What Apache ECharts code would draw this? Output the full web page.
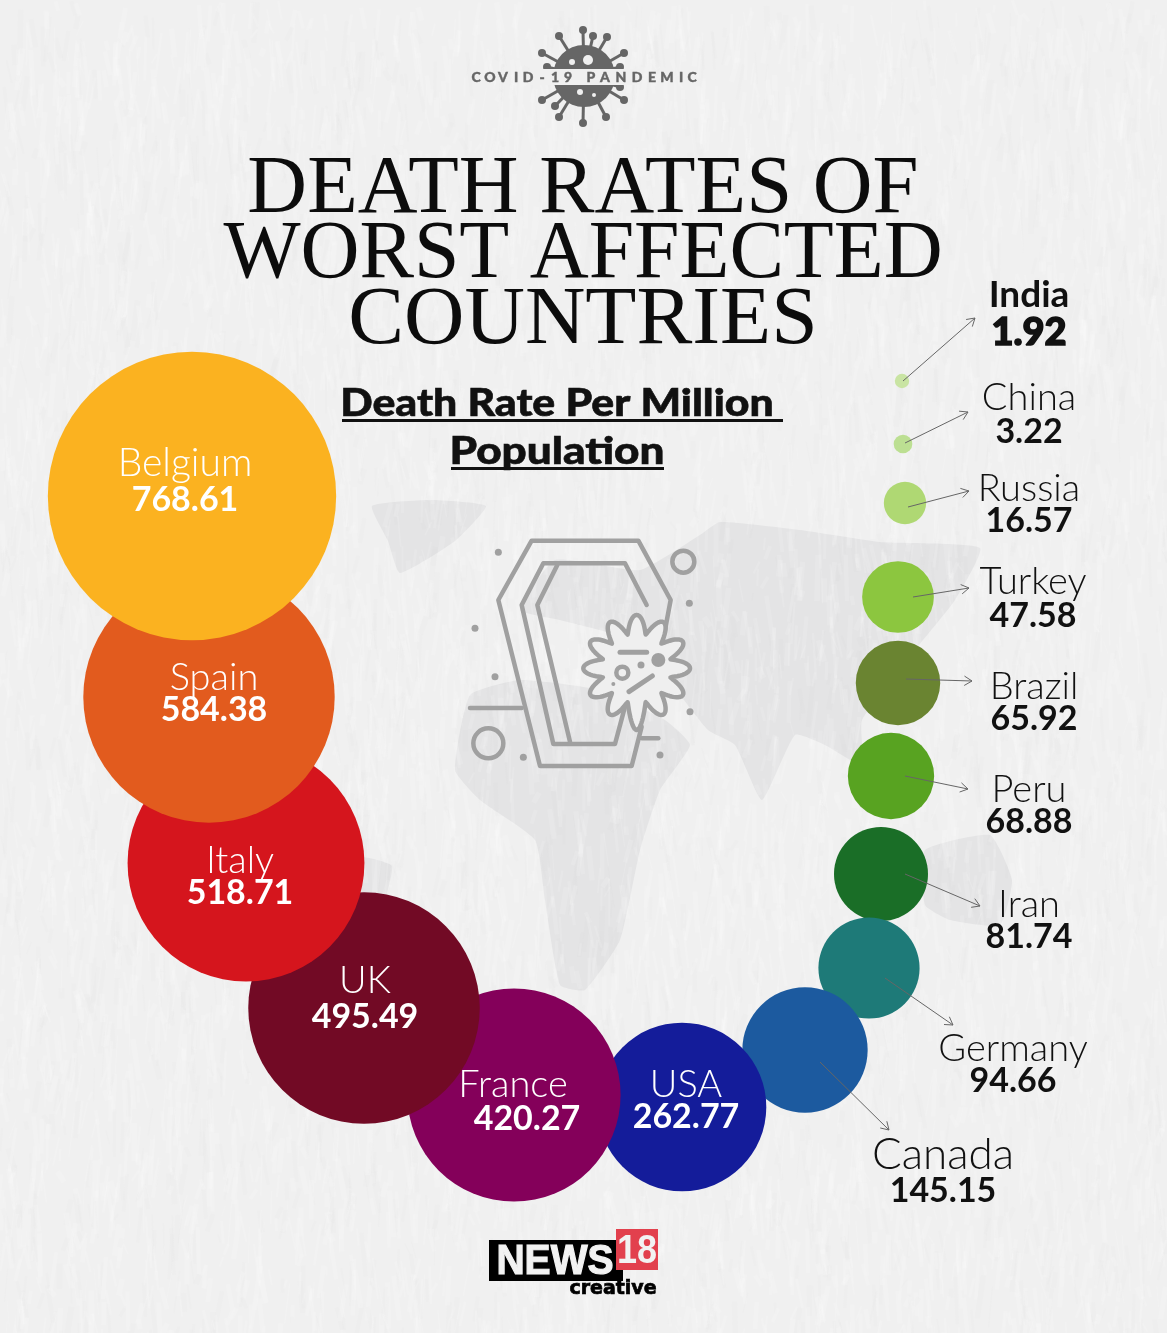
<!DOCTYPE html>
<html>
<head>
<meta charset="utf-8">
<title>Death rates of worst affected countries</title>
<style>
html, body { margin: 0; padding: 0; background: #f0f0f0; }
#chart { width: 1167px; height: 1333px; }
</style>
<script src="https://cdn.jsdelivr.net/npm/echarts@6/dist/echarts.min.js"></script>
</head>
<body>
<div id="chart"></div>
<script>
// values, smallest first so the bigger bubbles paint on top
const countries = ['India', 'China', 'Russia', 'Turkey', 'Brazil', 'Peru', 'Iran', 'Germany', 'Canada', 'USA', 'France', 'UK', 'Italy', 'Spain', 'Belgium']
const deathRates = [1.92, 3.22, 16.57, 47.58, 65.92, 68.88, 81.74, 94.66, 145.15, 262.77, 420.27, 495.49, 518.71, 584.38, 768.61]
const valueLabels = ['1.92', '3.22', '16.57', '47.58', '65.92', '68.88', '81.74', '94.66', '145.15', '262.77', '420.27', '495.49', '518.71', '584.38', '768.61']

// where each bubble sits on the hidden page-sized axes
const bubbleX = [902, 903, 905, 898, 898, 891, 881, 869, 805, 682, 514, 364, 246, 209, 192]
const bubbleY = [381, 444, 503, 597, 683, 776, 874, 968, 1050, 1107, 1095, 1008, 863, 697, 496]
const bubbleColors = ['#c9e4a3', '#bcdf92', '#afd873', '#8cc63f', '#6a8431', '#58a321', '#1a6e27', '#1e7a78', '#1c5a9f', '#141c9a', '#84005a', '#720a25', '#d5151d', '#e25b1e', '#fbb220']

// label block offset from its bubble centre, and gap between its two lines
const labelDX = [127, 126, 124, 135, 136, 138, 148, 144, 138, 4, 6, 1, -6, 5, -7]
const labelDY = [-67, -29, 2, 2, 20, 30, 47, 97, 123, -6, 7, -9, 14, -3, -14]
const labelGap = [38, 34, 33, 34, 33, 32, 33, 33, 37, 33, 34, 36, 33, 33, 37]

// arrow lines: x0, y0, x1, y1
const leaderLines = [
  [903, 381, 975, 318],
  [905, 443, 968, 412],
  [908, 507, 969, 491],
  [913, 597, 969, 588],
  [906, 679, 972, 681],
  [905, 776, 968, 789],
  [905, 874, 980, 906],
  [885, 978, 953, 1025],
  [820, 1062, 889, 1130]
]

const titleLines = ['DEATH RATES OF', 'WORST AFFECTED', 'COUNTRIES']
const subtitleLines = ['Death Rate Per Million ', 'Population']
const kicker = 'COVID-19 PANDEMIC'
const kickerX = [476, 490, 503, 516, 528, 542, 555, 568, 580, 591, 605, 621, 637, 652, 667, 681, 692]

const SANS = 'Lato, "Open Sans", sans-serif'
const PAPER = '#f0f0f0'
const MAP = '#e4e4e5'
const ICON = '#a0a0a0'
const VIRUS = '#666666'

function bubbleData() {
  return countries.map((name, i) => {
    const isIndia = name === 'India'
    const nameSize = name === 'Canada' ? 44 : name === 'Belgium' ? 39 : 38
    const shift = name === 'France' ? 7 : 0
    const ink = i > 8 ? '#ffffff' : '#111111'
    return {
      name: name,
      value: [bubbleX[i], bubbleY[i], deathRates[i]],
      itemStyle: { color: bubbleColors[i], opacity: 1 },
      label: {
        show: true,
        position: 'inside',
        offset: [labelDX[i], labelDY[i]],
        formatter: '{n|' + name + '}\n{v|' + valueLabels[i] + '}',
        rich: {
          n: {
            fontFamily: SANS,
            fontSize: isIndia ? 37 : nameSize,
            fontWeight: isIndia ? 700 : 300,
            lineHeight: labelGap[i],
            color: ink,
            padding: [0, shift * 2, 0, 0]
          },
          v: {
            fontFamily: SANS,
            fontSize: isIndia ? 38 : 34,
            fontWeight: isIndia ? 900 : 700,
            lineHeight: labelGap[i],
            color: ink,
            textBorderColor: ink,
            textBorderWidth: isIndia ? 1.5 : 0,
            padding: [0, 0, 0, shift * 2]
          }
        }
      }
    }
  })
}

function renderLeader(params, api) {
  const a = api.coord([api.value(0), api.value(1)])
  const b = api.coord([api.value(2), api.value(3)])
  const angle = Math.atan2(b[1] - a[1], b[0] - a[0])
  const head = 9
  const wing = (d) => [b[0] - head * Math.cos(angle + d), b[1] - head * Math.sin(angle + d)]
  const style = { stroke: '#666666', lineWidth: 1, fill: null }
  return {
    type: 'group',
    children: [
      { type: 'line', shape: { x1: a[0], y1: a[1], x2: b[0], y2: b[1] }, style: style },
      { type: 'polyline', shape: { points: [wing(0.55), b, wing(-0.55)] }, style: style }
    ]
  }
}

// decoration below here: paper, map, icons, logo
function polygon(points, fill) {
  return { type: 'polygon', z: 1, shape: { points: points, smooth: 0.15 }, style: { fill: fill } }
}

function mapShapes() {
  return [
    polygon([[372, 506], [430, 500], [486, 506], [455, 541], [400, 573], [388, 541]], MAP),
    // europe + asia
    polygon([[640, 570], [700, 535], [720, 522], [800, 530], [880, 542], [980, 548], [955, 600], [915, 650], [862, 720], [862, 765], [825, 745], [795, 735], [762, 800], [735, 745], [708, 730], [676, 690], [630, 640], [560, 620], [520, 610], [555, 560]], MAP),
    // africa
    polygon([[470, 695], [520, 680], [600, 690], [665, 720], [690, 745], [660, 790], [640, 850], [620, 940], [585, 990], [560, 985], [545, 900], [535, 840], [480, 800], [455, 770]], MAP),
    // australia and south america scraps
    polygon([[925, 850], [990, 835], [1012, 880], [1000, 925], [950, 920], [925, 905]], MAP),
    polygon([[360, 858], [392, 866], [380, 915], [360, 935]], MAP)
  ]
}

// crumpled paper: short pale vertical streaks over the page and the map
function paperTexture() {
  const canvas = document.createElement('canvas')
  canvas.width = 1167
  canvas.height = 1333
  const ctx = canvas.getContext('2d')
  let seed = 77
  const next = () => {
    seed = (seed * 16807) % 2147483647
    return seed / 2147483647
  }
  for (let i = 0; i < 9000; i++) {
    const x = next() * 1167
    const y = next() * 1333
    const len = 8 + next() * 40
    ctx.strokeStyle = next() < 0.72 ? 'rgba(255,255,255,0.13)' : 'rgba(190,190,190,0.03)'
    ctx.lineWidth = 1 + next() * 5
    ctx.beginPath()
    ctx.moveTo(x, y)
    ctx.lineTo(x + (next() - 0.5) * 14, y + len)
    ctx.stroke()
  }
  return { type: 'image', z: 1, x: 0, y: 0, style: { image: canvas, x: 0, y: 0, width: 1167, height: 1333 } }
}

function zoomed(x, y) {
  return [450 + x / 3, 520 + y / 3]
}

function iconLine(points) {
  return {
    type: 'polyline',
    z: 2,
    shape: { points: points.map((p) => zoomed(p[0], p[1])) },
    style: { stroke: ICON, lineWidth: 4.5, fill: null, lineCap: 'round', lineJoin: 'round' }
  }
}

function iconRing(x, y, r) {
  const c = zoomed(x, y)
  return { type: 'circle', z: 4, shape: { cx: c[0], cy: c[1], r: r }, style: { stroke: ICON, lineWidth: 4.5, fill: null } }
}

function iconDot(x, y, r) {
  const c = zoomed(x, y)
  return { type: 'circle', z: 4, shape: { cx: c[0], cy: c[1], r: r }, style: { fill: ICON } }
}

function coffinIcon() {
  const items = [
    iconLine([[645, 330], [662, 240], [565, 62], [245, 62], [145, 240], [270, 738], [545, 738], [575, 620]]),
    iconLine([[590, 255], [525, 130], [280, 130], [215, 255], [310, 672], [495, 672], [525, 560]]),
    iconLine([[322, 135], [262, 255], [360, 665]]),
    iconLine([[60, 564], [215, 564]]),
    iconLine([[575, 655], [625, 655]]),
    iconRing(700, 125, 11),
    iconRing(115, 670, 15)
  ]
  ;[[145, 97], [75, 325], [135, 470], [718, 250], [720, 575], [630, 705], [220, 712]].forEach((p) => {
    items.push(iconDot(p[0], p[1], 3.5))
  })
  // germ over the coffin corner: round knobs, one lobe stretched at the bottom
  const pts = []
  for (let i = 0; i < 360; i++) {
    const t = (Math.PI * 2 * i) / 360
    const off = Math.atan2(Math.sin(t - Math.PI / 2), Math.cos(t - Math.PI / 2))
    const knob = Math.pow((1 + Math.cos(12 * t)) / 2, 0.6)
    const r = 105 + 55 * knob + 25 * Math.exp(-(off * off) / 0.012)
    pts.push(zoomed(560 + r * Math.cos(t), 445 + r * Math.sin(t)))
  }
  items.push({
    type: 'polygon',
    z: 3,
    shape: { points: pts },
    style: { stroke: ICON, lineWidth: 4.5, lineJoin: 'round', fill: '#efefef' }
  })
  items.push(iconRing(517, 458, 6))
  items.push(iconDot(625, 420, 7))
  items.push(iconDot(573, 435, 3.5))
  items.push(iconDot(490, 492, 2))
  items.push({ type: 'polyline', z: 4, shape: { points: [zoomed(510, 397), zoomed(590, 397)] }, style: { stroke: ICON, lineWidth: 5, lineCap: 'round', fill: null } })
  items.push({ type: 'polyline', z: 4, shape: { points: [zoomed(537, 515), zoomed(607, 468)] }, style: { stroke: ICON, lineWidth: 5, lineCap: 'round', fill: null } })
  return items
}

function virusIcon() {
  const items = []
  const spikes = [[583, 30], [593, 36], [607, 37], [559, 36], [542, 53], [624, 53], [547, 67], [620, 67], [620, 87], [542, 100], [624, 100], [555, 106], [559, 117], [606, 117], [583, 123]]
  spikes.forEach((s) => {
    items.push({ type: 'line', z: 2, shape: { x1: 584, y1: 76, x2: s[0], y2: s[1] }, style: { stroke: VIRUS, lineWidth: 3 } })
    items.push({ type: 'circle', z: 2, shape: { cx: s[0], cy: s[1], r: 4 }, style: { fill: VIRUS } })
  })
  items.push({ type: 'circle', z: 2, shape: { cx: 584, cy: 76, r: 31 }, style: { fill: VIRUS } })
  ;[[588, 60, 5], [572, 62, 3], [580, 92, 3], [594, 95, 2]].forEach((h) => {
    items.push({ type: 'circle', z: 3, shape: { cx: h[0], cy: h[1], r: h[2] }, style: { fill: PAPER } })
  })
  items.push({ type: 'rect', z: 3, shape: { x: 530, y: 69, width: 110, height: 16 }, style: { fill: PAPER } })
  // letters placed one at a time for the wide tracking
  kicker.split('').forEach((ch, i) => {
    items.push({
      type: 'text',
      z: 4,
      x: kickerX[i],
      y: 77,
      style: { text: ch, fontFamily: SANS, fontSize: 14, fontWeight: 900, fill: VIRUS, stroke: VIRUS, lineWidth: 0.4, textAlign: 'center', textVerticalAlign: 'middle' }
    })
  })
  return items
}

function titleText() {
  const mids = [190, 255, 321]
  const squeeze = [0.997, 0.984, 1.008]
  return titleLines.map((line, i) => ({
    type: 'text',
    z: 2,
    x: 583,
    y: mids[i],
    scaleX: squeeze[i],
    // pale outline eats into the glyphs so the serif reads light
    style: { text: line, fontFamily: '"Liberation Serif", serif', fontSize: 83, fill: '#0c0c0c', stroke: PAPER, lineWidth: 1.7, textAlign: 'center', textVerticalAlign: 'middle' }
  }))
}

function subtitleText() {
  const base = { fontFamily: SANS, fontSize: 38, fontWeight: 900, fill: '#111111', stroke: '#111111', lineWidth: 0.6, textAlign: 'center', textVerticalAlign: 'middle' }
  return [
    { type: 'text', z: 2, x: 562, y: 404, scaleX: 1.125, style: Object.assign({ text: subtitleLines[0] }, base) },
    { type: 'text', z: 2, x: 557, y: 452, scaleX: 1.16, style: Object.assign({ text: subtitleLines[1] }, base) },
    { type: 'rect', z: 2, shape: { x: 342, y: 419, width: 441, height: 3 }, style: { fill: '#111111' } },
    { type: 'rect', z: 2, shape: { x: 451, y: 467, width: 213, height: 3 }, style: { fill: '#111111' } }
  ]
}

function logo() {
  const heavy = '"Liberation Sans", sans-serif'
  return [
    { type: 'rect', z: 2, shape: { x: 489, y: 1240, width: 134, height: 41 }, style: { fill: '#000000' } },
    { type: 'rect', z: 3, shape: { x: 616, y: 1229, width: 42, height: 41 }, style: { fill: '#e2404d' } },
    { type: 'text', z: 4, x: 555, y: 1262, scaleX: 0.93, style: { text: 'NEWS', fontFamily: heavy, fontSize: 42, fontWeight: 700, fill: '#f2f2f2', stroke: '#f2f2f2', lineWidth: 1.2, textAlign: 'center', textVerticalAlign: 'middle' } },
    { type: 'text', z: 4, x: 637, y: 1252, scaleX: 0.9, style: { text: '18', fontFamily: heavy, fontSize: 40, fontWeight: 700, fill: '#f2f2f2', textAlign: 'center', textVerticalAlign: 'middle' } },
    { type: 'text', z: 4, x: 613, y: 1289, style: { text: 'creative', fontFamily: '"DejaVu Sans", sans-serif', fontSize: 19, fontWeight: 700, fill: '#000000', stroke: '#000000', lineWidth: 0.7, textAlign: 'center', textVerticalAlign: 'middle' } }
  ]
}

const chart = echarts.init(document.getElementById('chart'), null, { renderer: 'canvas' })

chart.setOption({
  animation: false,
  backgroundColor: PAPER,
  grid: { left: 0, right: 0, top: 0, bottom: 0 },
  xAxis: { type: 'value', min: 0, max: 1167, show: false },
  yAxis: { type: 'value', min: 0, max: 1333, inverse: true, show: false },
  graphic: { elements: [].concat(mapShapes(), [paperTexture()], virusIcon(), titleText(), subtitleText(), coffinIcon(), logo()) },
  series: [
    {
      name: 'Death rate per million',
      type: 'scatter',
      z: 5,
      clip: false,
      symbol: 'circle',
      // area follows the value, same scale for every bubble
      symbolSize: (val) => 10.4 * Math.sqrt(val[2]),
      data: bubbleData()
    },
    {
      name: 'Leaders',
      type: 'custom',
      z: 6,
      clip: false,
      silent: true,
      renderItem: renderLeader,
      data: leaderLines
    }
  ]
})
</script>
</body>
</html>
